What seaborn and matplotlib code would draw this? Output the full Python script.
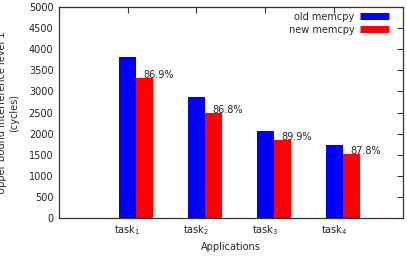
import numpy as np
import pandas as pd
import matplotlib
matplotlib.use("Agg")
import matplotlib.pyplot as plt
import seaborn as sns
from matplotlib.lines import Line2D

# data
tasks = [r"task$_1$", r"task$_2$", r"task$_3$", r"task$_4$"]
old_memcpy = [3810, 2860, 2070, 1720]
new_memcpy = [3310, 2485, 1860, 1510]
ratios = ["86.9%", "86.8%", "89.9%", "87.8%"]
series = ["old memcpy", "new memcpy"]
colors = ["#0000ff", "#ff0000"]
yticks = [0, 500, 1000, 1500, 2000, 2500, 3000, 3500, 4000, 4500, 5000]

df = pd.DataFrame({
    "task": tasks * 2,
    "cycles": old_memcpy + new_memcpy,
    "version": [series[0]] * len(tasks) + [series[1]] * len(tasks),
})

sns.set_style("white")
plt.rcParams["font.family"] = ["DejaVu Sans"]

fig = plt.figure(figsize=(4.07, 2.56), dpi=100)
ax = fig.add_axes([0.145, 0.148, 0.845, 0.825])

sns.barplot(data=df, x="task", y="cycles", hue="version", palette=colors,
            width=0.5, saturation=1, linewidth=0, ax=ax, legend=False)

# percentage labels next to the new memcpy bars
for i, (v, r) in enumerate(zip(new_memcpy, ratios)):
    ax.text(i + 0.1, v + 70, r, fontsize=7, ha="left", va="center", color="#222222")

pos = np.arange(len(tasks)) - 0.125
ax.set_xticks(pos)
ax.set_xticklabels(tasks, fontsize=7)
ax.set_xlim(-1.118, 3.868)
ax.set_ylim(0, 5000)
ax.set_yticks(yticks)
ax.set_yticklabels([str(t) for t in yticks], fontsize=7)

ax.set_xlabel("Applications", fontsize=7, labelpad=3)
ax.set_ylabel("Upper Bound Interference level 1\n(cycles)", fontsize=7, labelpad=7)

for s in ax.spines.values():
    s.set_visible(True)
    s.set_color("#333333")
    s.set_linewidth(0.9)
ax.tick_params(direction="in", length=4, width=0.8, top=True, right=True,
               colors="#333333", labelcolor="#222222", pad=4)

handles = [Line2D([], [], color=c, lw=5, solid_capstyle="butt") for c in colors]
ax.legend(handles, series, loc="upper right", bbox_to_anchor=(0.975, 1.0),
          frameon=False, fontsize=7, markerfirst=False, handlelength=3.0,
          handletextpad=0.6, labelspacing=0.3, borderaxespad=0.2, borderpad=0.3)

fig.savefig("out.png", dpi=100)
